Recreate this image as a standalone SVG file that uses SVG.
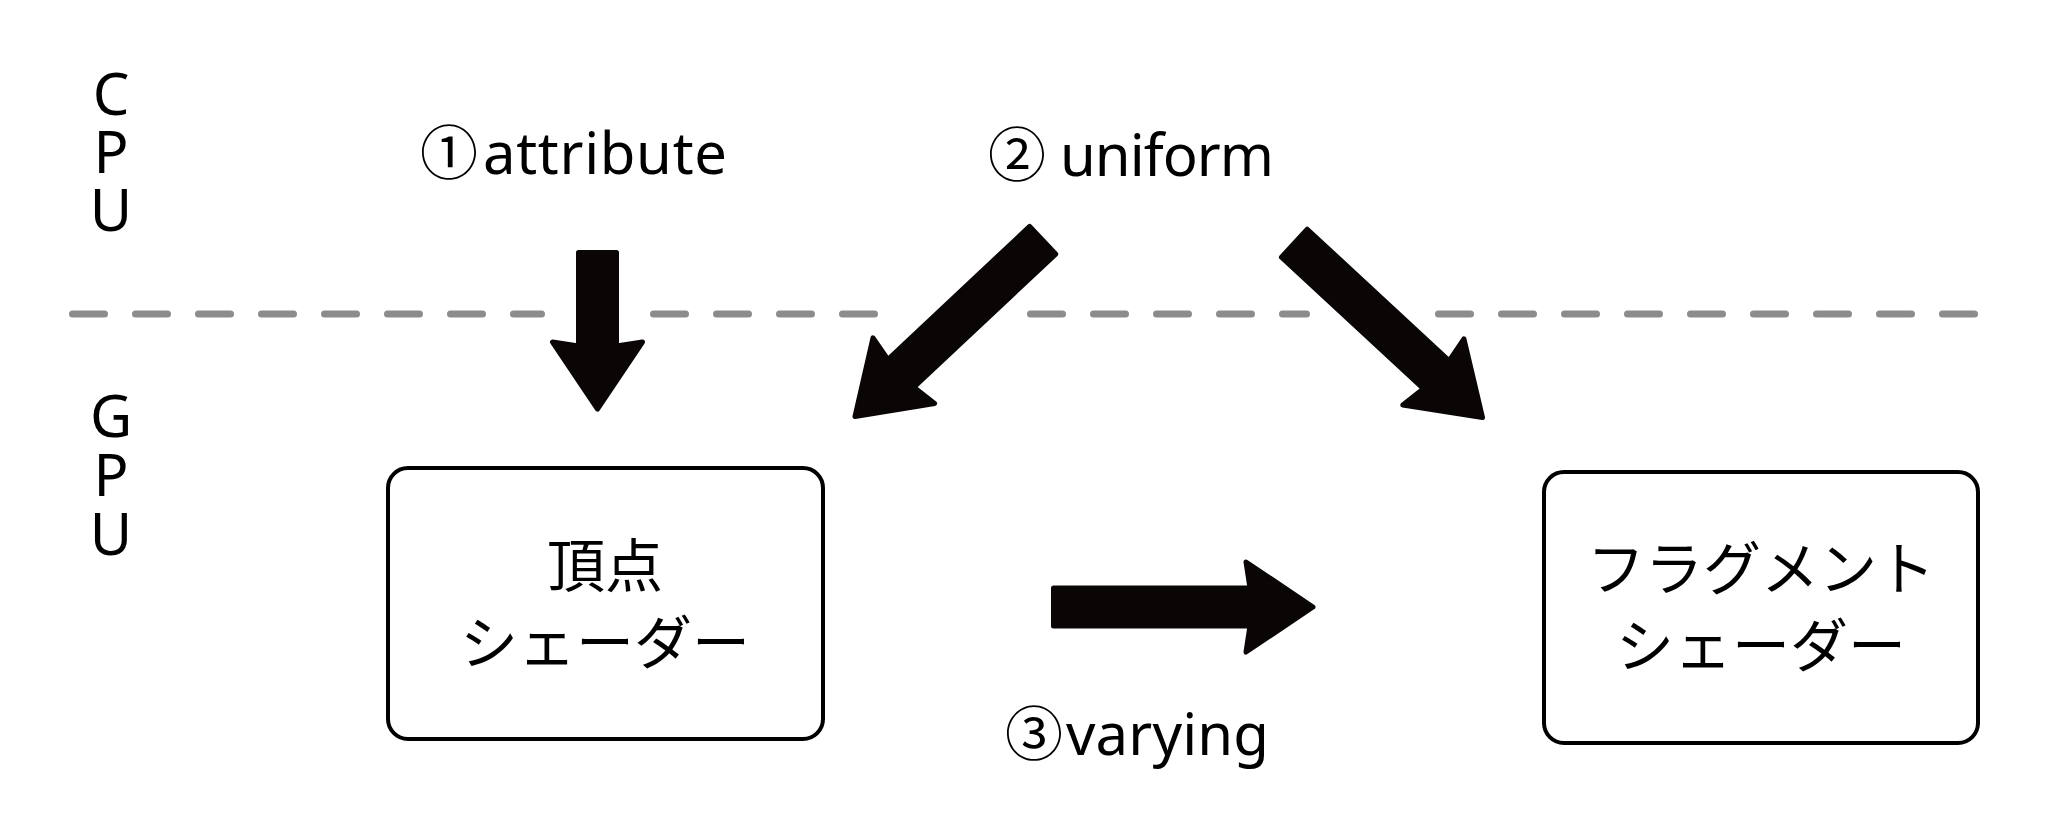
<svg xmlns="http://www.w3.org/2000/svg" width="2048" height="837" viewBox="0 0 2048 837">
<style>
.lbl{font-family:"Noto Sans","Noto Sans CJK JP",sans-serif;font-size:58px;fill:#000}
.side{font-family:"Noto Sans","Noto Sans CJK JP",sans-serif;font-size:58px;fill:#000;text-anchor:middle}
.jp{font-family:"Noto Sans CJK JP",sans-serif;font-size:58px;fill:#000;text-anchor:middle}
.box{fill:#fff;stroke:#000;stroke-width:4}
.dash{stroke:#8c8c8c;stroke-width:7;stroke-linecap:round;stroke-dasharray:32 31;fill:none}
.arrow{fill:#0b0606;stroke:#0b0606;stroke-width:5;stroke-linejoin:round}
</style>
<rect width="2048" height="837" fill="#fff"/>
<g id="divider">
<line class="dash" x1="72.5" y1="314" x2="541.5" y2="314"/>
<line class="dash" x1="653.5" y1="314" x2="874.5" y2="314"/>
<line class="dash" x1="1030.5" y1="314" x2="1306.5" y2="314"/>
<line class="dash" x1="1438.5" y1="314" x2="1974.5" y2="314"/>
</g>
<g id="cpu-label">
<text class="side"><tspan x="111" y="115">C</tspan><tspan x="111" y="173">P</tspan><tspan x="111" y="231">U</tspan></text>
</g>
<g id="gpu-label">
<text class="side"><tspan x="111" y="437">G</tspan><tspan x="111" y="496">P</tspan><tspan x="111" y="555">U</tspan></text>
</g>
<g id="attribute-label">
<text class="lbl" y="174"><tspan x="420">①</tspan><tspan x="483" textLength="244">attribute</tspan></text>
</g>
<g id="uniform-label">
<text class="lbl" y="176"><tspan x="988">②</tspan><tspan x="1060" textLength="214">uniform</tspan></text>
</g>
<g id="varying-label">
<text class="lbl" y="755"><tspan x="1005">③</tspan><tspan x="1066" textLength="203">varying</tspan></text>
</g>
<g id="vertex-shader">
<rect class="box" x="388" y="468" width="435" height="271" rx="20"/>
<text class="jp" x="605" y="587">頂点</text>
<text class="jp" x="605" y="664">シェーダー</text>
</g>
<g id="fragment-shader">
<rect class="box" x="1544" y="472" width="434" height="271" rx="20"/>
<text class="jp" x="1761" y="590">フラグメント</text>
<text class="jp" x="1761" y="667">シェーダー</text>
</g>
<g id="connectors">
<path class="arrow" transform="translate(597.5,250) rotate(90)" d="M2.5,-19 H96 L92,-45 L159,0 L92,45 L96,19 H2.5Z"/>
<path class="arrow" transform="translate(1044.5,238.5) rotate(136.8)" d="M2.5,-19 H197 L193,-45 L260,0 L193,45 L197,19 H2.5Z"/>
<path class="arrow" transform="translate(1292.5,241.5) rotate(42.8)" d="M2.5,-19 H196 L192,-45 L259,0 L192,45 L196,19 H2.5Z"/>
<path class="arrow" transform="translate(1051,607)" d="M2.5,-19 H199 L195,-45 L262,0 L195,45 L199,19 H2.5Z"/>
</g>
</svg>
